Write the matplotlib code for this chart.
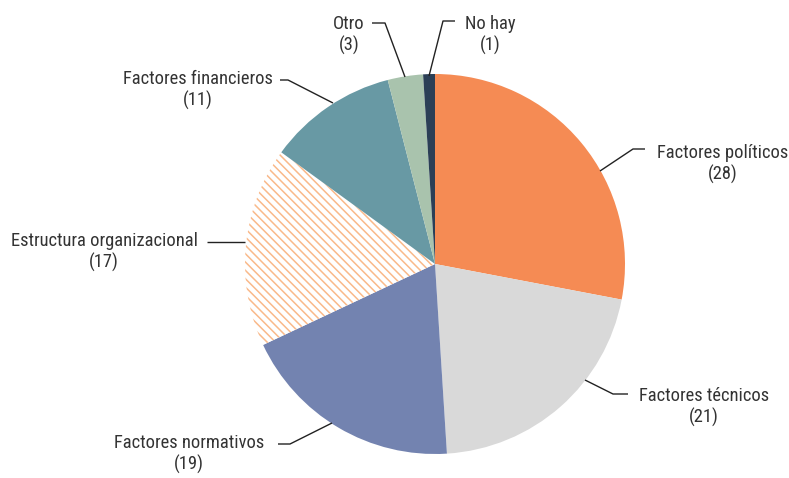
import matplotlib
matplotlib.use('Agg')

import matplotlib.pyplot as plt

plt.rcParams['font.family'] = ['Roboto Condensed', 'DejaVu Sans']
plt.rcParams['hatch.linewidth'] = 1.1

# Data
labels = ["Factores políticos", "Factores técnicos", "Factores normativos",
          "Estructura organizacional", "Factores financieros", "Otro", "No hay"]
values = [28, 21, 19, 17, 11, 3, 1]
colors = ["#F58B54", "#D9D9D9", "#7383B0", "#FFFFFF", "#6899A4", "#A9C3AD", "#2B3F56"]

# layout in pixels of the 789x478 canvas (pie centre 435,264, radius 190)
CX, CY, R = 435, 264, 190

# label block centres
text_px = [(723, 164), (704, 407), (189, 454), (104, 252),
           (198, 90), (349, 35), (490, 35)]
# leader lines: start on wedge, elbow, end near text
leader_px = [
    [(600, 171), (633, 149), (645, 149)],
    [(585, 380), (613, 394), (628, 394)],
    [(332, 423), (290, 444), (278, 444)],
    [(245, 242), (207, 242)],
    [(333, 103), (288, 80), (280, 80)],
    [(405, 77), (385, 23), (372, 23)],
    [(429, 76), (443, 21), (455, 21)],
]


def to_data(p):
    return (p[0] - CX) / R, (CY - p[1]) / R


fig = plt.figure(figsize=(7.89, 4.78), dpi=100)
ax = fig.add_axes([0, 0, 1, 1])

wedges, _ = ax.pie(values, colors=colors, startangle=90, counterclock=False,
                   radius=1.0, center=(0, 0),
                   wedgeprops=dict(linewidth=0))
# hatched wedge
wedges[3].set_hatch("\\\\\\\\")
wedges[3].set_edgecolor("#F9B98A")
wedges[3].set_linewidth(0)

for i in range(len(values)):
    pts = [to_data(p) for p in leader_px[i]]
    ax.plot([p[0] for p in pts], [p[1] for p in pts], color="#222222", lw=1.0,
            solid_capstyle="butt")
    tx, ty = to_data(text_px[i])
    ax.text(tx, ty, f"{labels[i]}\n({values[i]})", ha="center", va="center",
            fontsize=13.3, color="#333333", linespacing=1.25)

ax.set_xlim(-CX / R, (789 - CX) / R)
ax.set_ylim((CY - 478) / R, CY / R)
ax.set_aspect("auto")
ax.axis("off")

fig.savefig("out.png", dpi=100)
